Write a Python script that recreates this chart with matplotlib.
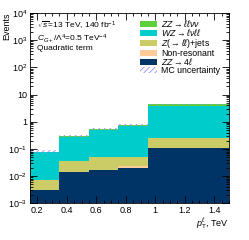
import numpy as np
import matplotlib
matplotlib.use("Agg")
import matplotlib.pyplot as plt
from matplotlib.patches import Patch
from matplotlib.ticker import FixedLocator, LogLocator, MultipleLocator, FuncFormatter

plt.rcParams['font.family'] = ['Liberation Sans', 'DejaVu Sans']
plt.rcParams['mathtext.fontset'] = 'custom'
plt.rcParams['mathtext.rm'] = 'Liberation Sans'
plt.rcParams['mathtext.it'] = 'Liberation Sans:italic'
plt.rcParams['hatch.linewidth'] = 0.6

# donnees
edges = [0.15, 0.35, 0.55, 0.75, 0.95, 1.5]
zz4l = [0.0031, 0.0135, 0.0167, 0.0204, 0.11]
nonres = [0.0, 0.0, 0.0, 0.003, 0.0]
zjets = [0.0037, 0.0235, 0.035, 0.0255, 0.14]
wz = [0.068, 0.24, 0.46, 0.66, 3.43]
zzllvv = [0.004, 0.012, 0.02, 0.06, 0.68]
unc = [0.12, 0.08, 0.06, 0.06, 0.05]  # relative

noms = [r"$ZZ\rightarrow\ell\ell\nu\nu$", r"$WZ\rightarrow\ell\nu\ell\ell$",
        r"$Z(\rightarrow\ell\ell)$+jets", "Non-resonant", r"$ZZ\rightarrow 4\ell$"]
couleurs = ["#5ccf3a", "#00cccc", "#cccc66", "#ffcc99", "#003366"]

fig = plt.figure(figsize=(2.49, 2.40), dpi=100)
ax = fig.add_axes([0.1205, 0.153, 0.799, 0.793])

# empilement
pile = [zz4l, nonres, zjets, wz, zzllvv]
cols = ["#003366", "#ffcc99", "#cccc66", "#00cccc", "#5ccf3a"]
bas = np.full(len(zz4l), 1e-4)
for vals, c in zip(pile, cols):
    haut = bas + np.array(vals)
    ax.stairs(haut, edges, baseline=bas, fill=True, color=c, lw=0)
    bas = haut
tot = bas
u = np.array(unc)
ax.stairs(tot * (1 + u), edges, baseline=tot * (1 - u), fill=True,
          facecolor="none", edgecolor="#8f8fff", hatch="//////", lw=0)

ax.set_yscale("log")
ax.set_xlim(0.15, 1.5)
ax.set_ylim(1e-3, 1e4)

def fmt(v, pos):
    e = int(round(np.log10(v)))
    if e == 0:
        return "1"
    if e == 1:
        return "10"
    return r"$10^{%d}$" % e

ax.yaxis.set_major_locator(LogLocator(base=10, numticks=20))
ax.yaxis.set_minor_locator(LogLocator(base=10, subs=np.arange(2, 10), numticks=20))
ax.yaxis.set_major_formatter(FuncFormatter(fmt))
ax.xaxis.set_major_locator(FixedLocator([0.2, 0.4, 0.6, 0.8, 1.0, 1.2, 1.4]))
ax.xaxis.set_major_formatter(FuncFormatter(lambda v, p: "%g" % v))
ax.xaxis.set_minor_locator(MultipleLocator(0.05))
ax.tick_params(which="both", direction="in", top=True, right=True, labelsize=6.5, pad=2)
ax.tick_params(which="major", length=5, width=0.6)
ax.tick_params(which="minor", length=2.5, width=0.6)
for s in ax.spines.values():
    s.set_linewidth(0.6)

ax.set_ylabel("Events", fontsize=6.5, loc="top")
ax.yaxis.set_label_coords(-0.095, 1.0)
ax.set_xlabel(r"$p_{\mathrm{T}}^{\ell}$, TeV", fontsize=6.5, loc="right", labelpad=1)

ax.text(0.035, 0.965, r"$\sqrt{s}$=13 TeV, 140 fb$^{-1}$", transform=ax.transAxes,
        fontsize=6, va="top")
ax.text(0.035, 0.895, r"$C_{G+}/\Lambda^{4}$=0.5 TeV$^{-4}$", transform=ax.transAxes,
        fontsize=6, va="top")
ax.text(0.035, 0.83, "Quadratic term", transform=ax.transAxes, fontsize=6, va="top")

poignees = [Patch(facecolor=c, edgecolor="none") for c in couleurs]
poignees.append(Patch(facecolor="white", edgecolor="#8f8fff", hatch="//////", lw=0))
leg = ax.legend(poignees, noms + ["MC uncertainty"], loc="upper left",
                bbox_to_anchor=(0.553, 0.975), frameon=False, fontsize=6.3,
                handlelength=1.9, handleheight=0.7, labelspacing=-0.15,
                handletextpad=0.5, borderaxespad=0, borderpad=0)

fig.savefig("out.png", dpi=100)
